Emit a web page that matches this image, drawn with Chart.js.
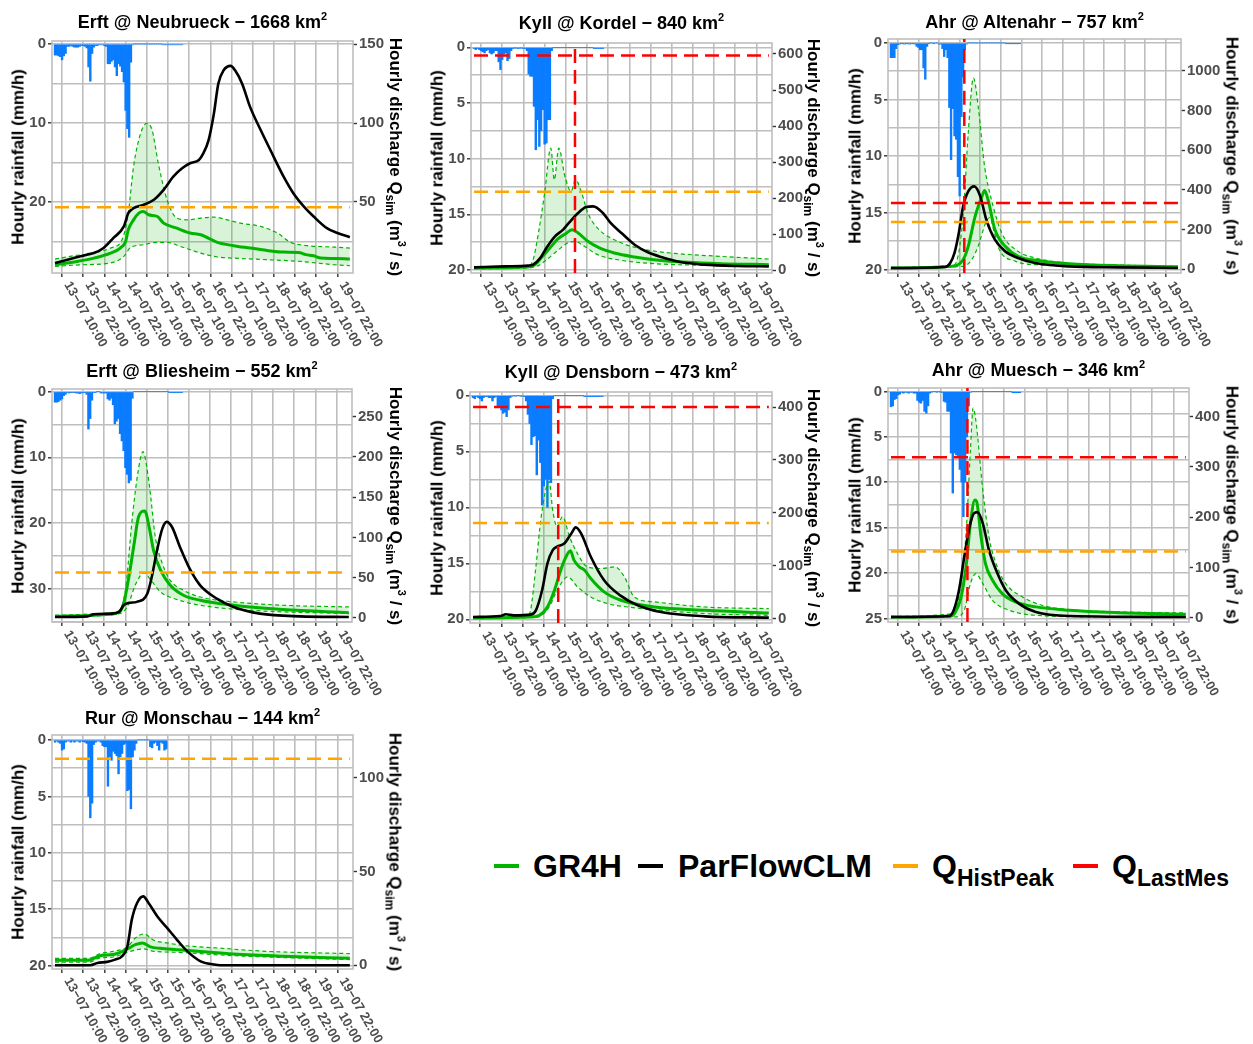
<!DOCTYPE html>
<html>
<head>
<meta charset="utf-8">
<script src="https://cdn.jsdelivr.net/npm/chart.js@4.4.1/dist/chart.umd.min.js"></script>
<style>
  html, body { margin: 0; padding: 0; background: #fff; }
  body { width: 1253px; height: 1044px; position: relative; overflow: hidden;
         font-family: "Liberation Sans", Arial, sans-serif; }
  canvas { position: absolute; }
  .ptitle { position: absolute; font-weight: bold; font-size: 18px; line-height: 1;
            white-space: nowrap; transform: translate(-50%, -50%); color: #000; }
  .ptitle sup { font-size: 11px; vertical-align: 8px; line-height: 0; }
  .ytitle { position: absolute; font-weight: bold; font-size: 17px; line-height: 1;
            white-space: nowrap; color: #000; }
  .ytitle.left { transform: translate(-50%, -50%) rotate(-90deg); }
  .ytitle.right { transform: translate(-50%, -50%) rotate(90deg); }
  .ytitle sub { font-size: 12px; vertical-align: -4px; line-height: 0; }
  .ytitle sup { font-size: 11px; vertical-align: 8px; line-height: 0; }
  .key { position: absolute; top: 864px; width: 25px; height: 4px; }
  .ltext { position: absolute; top: 866px; transform: translateY(-50%); font-size: 32px;
           font-weight: bold; line-height: 1; white-space: nowrap; color: #000; }
  .ltext sub { font-size: 23px; vertical-align: -9px; line-height: 0; }
</style>
</head>
<body>
<div class="key" style="left:494px;background:#00b400"></div>
<div class="ltext" style="left:533px">GR4H</div>
<div class="key" style="left:638px;background:#000"></div>
<div class="ltext" style="left:678px">ParFlowCLM</div>
<div class="key" style="left:893px;background:#ffa500"></div>
<div class="ltext" style="left:932px">Q<sub>HistPeak</sub></div>
<div class="key" style="left:1073px;background:#ff0000"></div>
<div class="ltext" style="left:1112px">Q<sub>LastMes</sub></div>

<script>
// hours counted from 13-07 00:00
const tickHours = [10, 22, 34, 46, 58, 70, 82, 94, 106, 118, 130, 142, 154, 166];
const tickLabels = ['13−07 10:00', '13−07 22:00', '14−07 10:00', '14−07 22:00', '15−07 10:00',
  '15−07 22:00', '16−07 10:00', '16−07 22:00', '17−07 10:00', '17−07 22:00', '18−07 10:00',
  '18−07 22:00', '19−07 10:00', '19−07 22:00'];

// Erft @ Neubrueck: hourly rainfall (mm/h), discharge as [hour, m3/s]
const neubrueckRain = [1.4, 1.4, 1.5, 1.6, 2.0, 1.5, 1.2, 0.3, 0.3, 0.2, 0.3, 0.4, 0.4, 0.4, 0.3, 0.2,
  0.2, 0.3, 0.5, 2.9, 4.7, 1.2, 0.4, 0.2, 0.2, 0.1, 0.1, 0.1, 0.2, 0.3, 2.5, 2.5, 2.2, 2.0, 2.9, 4.0,
  2.5, 2.8, 3.5, 4.8, 8.4, 10.7, 11.8, 2.3, 0.1, 0, 0, 0, 0, 0, 0, 0, 0, 0, 0, 0, 0, 0, 0, 0, 0,
  0.1, 0.1, 0.1, 0.1, 0.1, 0.1, 0.1, 0.1, 0.1, 0.1, 0.1, 0.1];
const neubrueckGr4h = [[0, 10.1], [12.5, 12.2], [22, 14.3], [31.5, 17.5], [37, 20.7], [40, 24.9],
  [41.5, 32.3], [44.5, 38.6], [47.5, 42.8], [50, 43.9], [53, 41.8], [58, 40.7], [61.5, 36.5],
  [69, 33.3], [76.5, 30.2], [82.5, 29.1], [92, 24.3], [101, 22.2], [110.5, 20.7], [120, 19.2],
  [129.5, 18.1], [138, 17.9], [142, 16.5], [146.5, 15.8], [150.5, 14.3], [158, 14.1], [167, 13.7]];
const neubrueckUpper = [[0, 13.7], [10.5, 15.8], [22, 17.5], [31.5, 20.7], [38, 26], [41.5, 42.8],
  [44.5, 72.4], [48.5, 93.5], [52, 99.8], [55, 95.6], [58.5, 74.5], [63.5, 51.3], [69, 39.7],
  [75, 38.6], [82.5, 39.7], [90, 40.3], [97.5, 38.6], [105, 36.5], [116.5, 34.4], [126, 30.2],
  [133.5, 24.3], [143, 22.2], [158, 21.3], [167, 20.7]];
const neubrueckLower = [[0, 9.1], [16, 10.1], [31.5, 11.2], [39, 15.4], [42.5, 20.7], [50, 22.8],
  [58, 24.3], [63.5, 24.3], [71, 21.7], [82.5, 17.5], [92, 15], [101, 14.3], [120, 13.3],
  [139, 12.2], [158, 10.1], [167, 9.5]];
const neubrueckParflow = [[0, 11.2], [7, 13.3], [18, 16.5], [22, 17.5], [27.5, 20.7], [33, 27],
  [39, 34.4], [41.5, 42.8], [44.5, 46], [50, 48.1], [56, 51.3], [61.5, 57.6], [67, 66], [72, 71.3],
  [76.5, 74.5], [81.5, 76.6], [84, 80.8], [87, 89.2], [90, 106], [92.5, 125], [95.5, 133.5],
  [99.5, 136.3], [102, 133.5], [106, 125], [110.5, 110.3], [116.5, 95.6], [122, 82.9],
  [129.5, 66], [135, 55.5], [141, 47], [146.5, 40.7], [154, 33.3], [160, 30.2], [167, 27.6]];
const neubrueckHistPeak = 46.6;

// Kyll @ Kordel
const kordelRain = [0.1, 0.2, 0.1, 0.2, 0.3, 0.4, 0.5, 0.3, 0.2, 0.5, 0.6, 0.5, 0.3, 0.3, 1.3, 2.0,
  1.1, 0.6, 0.5, 1.2, 1.0, 0.3, 0.1, 0.05, 0.05, 0.1, 0.05, 0.05, 0.1, 0.1, 0.3, 2.4, 2.6, 2.6,
  5.3, 9.2, 6.5, 8.9, 7.5, 5.6, 8.7, 8.6, 6.5, 6.5, 0.3, 0, 0, 0, 0, 0, 0, 0, 0, 0, 0, 0, 0, 0, 0,
  0, 0, 0, 0, 0, 0, 0, 0, 0, 0.1, 0.1, 0.1, 0.1, 0.1, 0.1];
const kordelGr4h = [[0, 6.5], [30.5, 9.2], [34.5, 15.7], [38, 34], [43, 62], [47.5, 87],
  [52.5, 103.5], [55.5, 112.8], [59, 103.5], [64.5, 80.4], [71, 62], [79.5, 48], [91, 37],
  [102, 29.6], [121, 22.2], [139.5, 18.5], [167, 15.7]];
const kordelUpper = [[0, 6.5], [30.5, 11], [33.5, 29.6], [36.5, 103.5], [40, 214.5], [43.5, 339],
  [45.5, 251], [48, 339], [51.5, 261], [55, 219], [57.5, 251], [61, 214.5], [64.5, 159],
  [70, 117], [79.5, 85], [92.5, 62], [111.5, 48], [139.5, 38.8], [167, 31.4]];
const kordelLower = [[0, 4.6], [30.5, 6.5], [35.5, 11], [40, 25], [47.5, 55.5], [53, 75.8],
  [57, 80.4], [62.5, 66.6], [70, 43.5], [83.5, 27.7], [102, 18.5], [130.5, 13.9], [167, 11]];
const kordelParflow = [[0, 8.3], [17.5, 11], [30.5, 13], [33.5, 15.7], [37.5, 34], [41, 62],
  [45.5, 92.4], [50.5, 113], [54, 133], [59, 159], [63.5, 175.6], [67.5, 177.5], [73, 159],
  [77.5, 131], [83.5, 103.5], [91, 71], [98.5, 50], [106, 37], [117, 23], [130.5, 15.7],
  [149, 12], [167, 11]];
const kordelHistPeak = 218;
const kordelLastMes = 596;
const kordelLastMesHour = 57.2;

// Ahr @ Altenahr
const altenahrRain = [1.3, 1.3, 1.3, 0.5, 0.15, 0.1, 0.05, 0.05, 0.1, 0.05, 0.05, 0.1, 0.05, 0.05,
  0.1, 0.3, 0.4, 0.6, 0.6, 2.2, 3.2, 0.3, 0.05, 0, 0, 0.05, 0, 0, 0.1, 0.1, 0.5, 1.2, 0.6, 1.3,
  5.7, 10.3, 5.8, 8.2, 8.5, 11.8, 13.5, 6.5, 3.0, 0.6, 0.1, 0, 0, 0, 0, 0, 0, 0, 0, 0, 0, 0, 0, 0,
  0, 0, 0, 0, 0, 0, 0, 0, 0, 0.05, 0.05, 0.05, 0.05, 0.05, 0.05, 0.05, 0.05, 0.05];
const altenahrGr4h = [[0, 5], [35.5, 13.5], [42, 47], [45, 114.5], [49, 266], [53, 367],
  [54.5, 397], [56.5, 350], [60.5, 199], [66.5, 114.5], [74, 64], [84, 43.8], [103.5, 27],
  [132.5, 16.8], [167, 11.8]];
const altenahrUpper = [[0, 8.4], [37, 22], [42, 266], [45, 687], [48, 964.6], [51, 805],
  [54.5, 518.5], [58.5, 350], [64.5, 182], [72.5, 97.6], [84, 55.5], [103.5, 30], [132.5, 20],
  [167, 13.5]];
const altenahrLower = [[0, 3.4], [42, 13.5], [47, 47], [51, 120], [55, 230], [57.5, 260],
  [60, 190], [63, 100], [72.5, 38.7], [84, 22], [123, 13.5], [167, 8.4]];
const altenahrParflow = [[0, 5], [31.5, 10], [34.5, 30], [37, 81], [39.5, 182], [42, 316],
  [45, 392], [48.5, 417.5], [52, 367], [55.5, 249], [60.5, 148], [66.5, 89], [74, 55.5],
  [84, 30], [103.5, 13.5], [132.5, 8.4], [167, 5]];
const altenahrHistPeak = 237;
const altenahrLastMes = 333;
const altenahrLastMesHour = 42.7;

// Erft @ Bliesheim
const bliesheimRain = [1.6, 1.6, 1.5, 1.3, 1.1, 0.6, 0.4, 0.1, 0.2, 0.1, 0.1, 0.1, 0.2, 0.2, 0.3,
  0.2, 0.1, 0.1, 0.4, 5.7, 4.1, 1.3, 0.1, 0.1, 0, 0, 0.2, 0.2, 0.2, 0.2, 1.1, 1.3, 1.0, 2.0, 4.9,
  4.5, 4.1, 6.4, 7.5, 9.0, 11.6, 12.6, 13.9, 13.5, 1.0, 0, 0, 0, 0, 0, 0, 0, 0, 0, 0, 0, 0, 0, 0,
  0, 0, 0, 0, 0, 0, 0.15, 0.15, 0.15, 0.15, 0.15, 0.15, 0.15, 0.15];
const bliesheimGr4h = [[0, 2], [31.5, 4.6], [36.5, 7.5], [39, 17.8], [42, 51], [45, 92.5],
  [47.5, 125.6], [51, 133], [53.5, 113], [56, 84], [60, 59.3], [65.5, 40.6], [73, 28.2],
  [82.5, 22], [101.5, 15.8], [129.5, 10.4], [167, 6.6]];
const bliesheimUpper = [[0, 3.3], [31.5, 6.2], [36.5, 9.5], [40, 34.4], [44, 125.6],
  [47.5, 185.7], [50, 206.5], [53.5, 167], [57, 100.7], [61, 67.6], [65.5, 46.8], [73, 34.4],
  [82.5, 26.1], [101.5, 20], [129.5, 15.8], [167, 13.7]];
const bliesheimLower = [[0, 1.2], [36.5, 5.4], [41, 13.7], [46, 42.7], [50.5, 56], [54.5, 46.8],
  [60, 32.3], [69.5, 22.8], [82.5, 15.8], [111, 9.5], [167, 5.4]];
const bliesheimParflow = [[0, 1.2], [18.5, 2], [22, 4.6], [31.5, 5.4], [36.5, 7.5], [39, 15.8],
  [42, 18.7], [46.5, 20], [52.5, 30.3], [55, 51], [58, 84], [61, 111], [63.5, 119.4],
  [66.5, 113], [71, 88.3], [77, 59.3], [82.5, 40.6], [92, 24], [101.5, 13.7], [116.5, 5.4],
  [139, 2], [167, 1.2]];
const bliesheimHistPeak = 56.4;

// Kyll @ Densborn
const densbornRain = [0.2, 0.3, 0.1, 0.2, 0.3, 0.5, 0.2, 0.1, 0.1, 0.2, 0.2, 0.5, 0.2, 0.1, 1.0,
  1.0, 1.3, 1.6, 1.5, 1.9, 1.3, 0.2, 0.05, 0, 0.05, 0, 0, 0.05, 0.05, 0.1, 0.5, 1.7, 2.5, 4.4,
  3.7, 3.6, 7.1, 4.0, 6.0, 9.8, 8.1, 7.5, 10.0, 7.5, 7.8, 0.3, 0, 0, 0, 0, 0, 0, 0, 0, 0, 0, 0,
  0, 0, 0, 0, 0, 0, 0.1, 0.1, 0.1, 0.1, 0.1, 0.1, 0.1, 0.1, 0.1, 0.1, 0.1];
const densbornGr4h = [[0, 1.3], [32.5, 3.2], [37.5, 6.3], [42, 22], [46, 53.7], [49.5, 91.6],
  [52.5, 117], [55, 128.3], [57, 110.6], [60, 98], [63, 91.6], [66.5, 75.8], [74, 50.6],
  [83.5, 34.8], [102.5, 22], [131, 15.8], [167, 10.7]];
const densbornUpper = [[0, 3.2], [31, 6.3], [32.5, 15.8], [35.5, 98], [38.5, 192.7], [43, 259],
  [45, 205], [47.5, 173.8], [50.5, 192.7], [54.5, 154.8], [59, 123], [64.5, 98], [72.5, 94.8],
  [80, 98], [85.5, 79], [91, 41], [102.5, 31.6], [131, 22], [167, 19]];
const densbornLower = [[0, 0.5], [36.5, 3.2], [43, 22], [47.5, 53.7], [53.5, 79], [59, 60],
  [66.5, 41], [76, 28.4], [87.5, 22], [102.5, 17], [131, 9.5], [167, 6.3]];
const densbornParflow = [[0, 3.2], [15.5, 5], [18.5, 8.2], [23, 6.3], [32.5, 7.6], [35.5, 15.8],
  [39, 53.7], [42, 104], [45, 129.5], [47.5, 136], [51.5, 142], [55.5, 161], [58, 172.5],
  [61, 161], [66.5, 117], [74, 72.7], [83.5, 43], [93, 25.3], [106, 12.6], [131, 4.4],
  [167, 1.9]];
const densbornHistPeak = 180.7;
const densbornLastMes = 400;
const densbornLastMesHour = 48.1;

// Ahr @ Muesch
const mueschRain = [1.7, 1.6, 0.9, 0.8, 0.4, 0.3, 0.1, 0.2, 0.1, 0.1, 0.2, 0.1, 0.1, 0.2, 0.2,
  1.0, 1.2, 1.3, 1.0, 2.2, 2.4, 1.6, 0.2, 0.05, 0, 0, 0.05, 0, 0.05, 0.1, 1.1, 1.2, 2.2, 2.2,
  6.8, 11.2, 6.8, 7.0, 7.2, 8.6, 10.0, 13.8, 10.0, 5.0, 1.6, 0.1, 0, 0, 0, 0, 0, 0, 0, 0, 0, 0,
  0, 0, 0, 0, 0, 0, 0, 0, 0, 0, 0, 0, 0, 0.15, 0.15, 0.15, 0.15, 0.15];
const mueschGr4h = [[0, 2], [34, 4], [36.5, 12], [39.5, 38.5], [42.5, 101.5], [45, 187.7],
  [47.5, 234], [48.5, 231], [51, 161], [53.5, 108], [57.5, 75], [63, 48.4], [70.5, 31.8],
  [82, 22], [101, 15.3], [129, 10.6], [167, 7.3]];
const mueschUpper = [[0, 3.3], [35, 8.6], [38.5, 41.8], [42.5, 167.8], [45, 333.7],
  [46.5, 416.6], [48, 393.4], [52, 254], [55.5, 161], [59.5, 108], [65, 68.3], [74.5, 41.8],
  [85.5, 25.2], [101, 16.6], [129, 12], [167, 10]];
const mueschLower = [[0, 0.7], [36.5, 2], [41.5, 15.3], [45, 68.3], [48, 88], [52, 68.3],
  [57.5, 35], [67, 15.3], [82, 5.3], [119.5, 2], [167, 1.3]];
const mueschParflow = [[0, 2], [33, 4], [35.5, 15.3], [38.5, 55], [41.5, 121.4], [44.5, 181],
  [47, 207.6], [49, 210], [52, 187.7], [55.5, 134.7], [59.5, 95], [65, 55], [72.5, 28.5],
  [82, 12], [101, 4], [167, 2]];
const mueschHistPeak = 132;
const mueschLastMes = 319;
const mueschLastMesHour = 43.3;

// Rur @ Monschau
const monschauRain = [0.2, 0.1, 0.2, 0.3, 0.9, 0.8, 0.2, 0.1, 0.1, 0.2, 0.1, 0.2, 0.1, 0.1, 0.2,
  0.1, 0.15, 0.2, 0.3, 5.0, 6.9, 5.6, 0.4, 0.2, 0.1, 0.1, 0.2, 0.5, 0.6, 0.6, 4.1, 1.5, 1.8, 1.0,
  1.2, 1.4, 3.0, 1.5, 1.2, 0.4, 0.3, 4.5, 4.4, 6.1, 1.5, 0.9, 0.3, 0, 0, 0, 0, 0, 0, 0, 0.6, 0.7,
  0.3, 0.2, 0.5, 0.9, 0.2, 0.3, 0.9, 0.8];
const monschauGr4h = [[0, 2.7], [19, 2.7], [25.5, 5.1], [33, 5.7], [41, 8.7], [45.5, 11],
  [49.5, 11.9], [54, 9.8], [59.5, 9], [69, 8.3], [82.5, 7.3], [101, 6], [129.5, 4.8], [167, 3.7]];
const monschauUpper = [[0, 3.7], [19, 3.7], [25.5, 6.2], [33, 7.4], [41, 9.8], [45.5, 14.5],
  [50.5, 16.7], [56, 13.3], [63.5, 11.9], [73, 10.5], [92, 9.2], [120, 7.4], [167, 6.2]];
const monschauLower = [[0, 1.6], [19, 1.6], [25.5, 3.9], [33, 4.4], [41, 6.9], [46.5, 8.3],
  [50, 8.7], [56, 7.4], [69, 6.9], [101, 5.1], [167, 3]];
const monschauParflow = [[0, 0], [20, 0], [24, 1.2], [29.5, 1.8], [34, 3], [38, 4.8], [41, 10],
  [43.5, 24.3], [46.5, 33.2], [50, 36.7], [53, 33.2], [58, 26], [63.5, 19.9], [69, 13.7],
  [75, 7.4], [82.5, 2.1], [90, 0.4], [93.5, 0], [167, 0]];
const monschauHistPeak = 110;

const HOUR_MIN = -1.7, HOUR_MAX = 168.8, LINE_END = 167;
const AXIS_L = 44, AXIS_R = 50, PAD_T = 12, AXIS_B = 82;
const FONT = '"Liberation Sans", Arial, sans-serif';
const GRID = '#bebebe', TICK = '#333333', LABEL = '#4d4d4d';
const BLUE = '#0a7cff', GREEN = '#00b400', BAND = 'rgba(0, 175, 0, 0.15)';
const ORANGE = '#ffa500', RED = '#ff0000';

const panels = [
  { river: 'Erft', station: 'Neubrueck', area: 1668, rain: neubrueckRain, gr4h: neubrueckGr4h,
    upper: neubrueckUpper, lower: neubrueckLower, parflow: neubrueckParflow,
    histPeak: neubrueckHistPeak, lastMes: null, lastMesHour: null,
    box: [52, 41, 353, 273], rainRange: [-0.38, 28.95], rainStep: 10,
    qRange: [4.85, 152.1], qTicks: [50, 100, 150], titleY: 21.7, leftX: 18, rightX: 395 },
  { river: 'Kyll', station: 'Kordel', area: 840, rain: kordelRain, gr4h: kordelGr4h,
    upper: kordelUpper, lower: kordelLower, parflow: kordelParflow,
    histPeak: kordelHistPeak, lastMes: kordelLastMes, lastMesHour: kordelLastMesHour,
    box: [471, 43, 772, 273], rainRange: [-0.39, 20.27], rainStep: 5,
    qRange: [-7.4, 630.5], qTicks: [0, 100, 200, 300, 400, 500, 600], titleY: 23.3, leftX: 437, rightX: 813 },
  { river: 'Ahr', station: 'Altenahr', area: 757, rain: altenahrRain, gr4h: altenahrGr4h,
    upper: altenahrUpper, lower: altenahrLower, parflow: altenahrParflow,
    histPeak: altenahrHistPeak, lastMes: altenahrLastMes, lastMesHour: altenahrLastMesHour,
    box: [888, 39, 1181, 273], rainRange: [-0.35, 20.3], rainStep: 5,
    qRange: [-20.2, 1161.6], qTicks: [0, 200, 400, 600, 800, 1000], titleY: 22, leftX: 855, rightX: 1232 },
  { river: 'Erft', station: 'Bliesheim', area: 552, rain: bliesheimRain, gr4h: bliesheimGr4h,
    upper: bliesheimUpper, lower: bliesheimLower, parflow: bliesheimParflow,
    histPeak: bliesheimHistPeak, lastMes: null, lastMesHour: null,
    box: [52, 389, 352, 622], rainRange: [-0.41, 35.1], rainStep: 10,
    qRange: [-5, 284.4], qTicks: [0, 50, 100, 150, 200, 250], titleY: 371, leftX: 18, rightX: 395 },
  { river: 'Kyll', station: 'Densborn', area: 473, rain: densbornRain, gr4h: densbornGr4h,
    upper: densbornUpper, lower: densbornLower, parflow: densbornParflow,
    histPeak: densbornHistPeak, lastMes: densbornLastMes, lastMesHour: densbornLastMesHour,
    box: [470, 392, 772, 623], rainRange: [-0.3, 20.33], rainStep: 5,
    qRange: [-8.2, 428.4], qTicks: [0, 100, 200, 300, 400], titleY: 371.7, leftX: 437, rightX: 813 },
  { river: 'Ahr', station: 'Muesch', area: 346, rain: mueschRain, gr4h: mueschGr4h,
    upper: mueschUpper, lower: mueschLower, parflow: mueschParflow,
    histPeak: mueschHistPeak, lastMes: mueschLastMes, lastMesHour: mueschLastMesHour,
    box: [888, 388, 1189, 622], rainRange: [-0.37, 25.4], rainStep: 5,
    qRange: [-8, 456.4], qTicks: [0, 100, 200, 300, 400], titleY: 370.3, leftX: 855, rightX: 1232 },
  { river: 'Rur', station: 'Monschau', area: 144, rain: monschauRain, gr4h: monschauGr4h,
    upper: monschauUpper, lower: monschauLower, parflow: monschauParflow,
    histPeak: monschauHistPeak, lastMes: null, lastMesHour: null,
    box: [52, 735, 353, 969], rainRange: [-0.44, 20.3], rainStep: 5,
    qRange: [-2, 122.7], qTicks: [0, 50, 100], titleY: 718, leftX: 18, rightX: 395 }
];

// panel border on top of the grid
const framePlugin = {
  id: 'frame',
  beforeDatasetsDraw(chart) {
    const a = chart.chartArea, ctx = chart.ctx;
    ctx.save();
    ctx.strokeStyle = GRID;
    ctx.lineWidth = 1.6;
    ctx.strokeRect(a.left, a.top, a.right - a.left, a.bottom - a.top);
    ctx.restore();
  }
};

// date labels slanted downwards, starting at each tick
const slantedTicks = {
  id: 'slantedTicks',
  afterDraw(chart) {
    const x = chart.scales.x, ctx = chart.ctx;
    ctx.save();
    ctx.font = 'bold 13px ' + FONT;
    ctx.fillStyle = LABEL;
    ctx.textAlign = 'left';
    ctx.textBaseline = 'top';
    tickHours.forEach((h, i) => {
      ctx.save();
      ctx.translate(x.getPixelForValue(h), chart.chartArea.bottom + 6.5);
      ctx.rotate(Math.PI / 3);
      ctx.fillText(tickLabels[i], 0, 0);
      ctx.restore();
    });
    ctx.restore();
  }
};

function pairs(arr) {
  return arr.map(([h, q]) => ({ x: h, y: q }));
}

function line(data, style) {
  return Object.assign({
    type: 'line', data: data, yAxisID: 'q', pointRadius: 0, fill: false,
    cubicInterpolationMode: 'monotone'
  }, style);
}

function addText(cls, html, left, top) {
  const d = document.createElement('div');
  d.className = cls;
  d.innerHTML = html;
  d.style.left = left + 'px';
  d.style.top = top + 'px';
  document.body.appendChild(d);
}

function drawPanel(p) {
  const [l, t, r, b] = p.box;
  const cw = (r - l) + AXIS_L + AXIS_R, ch = (b - t) + PAD_T + AXIS_B;
  const canvas = document.createElement('canvas');
  canvas.width = cw;
  canvas.height = ch;
  canvas.style.left = (l - AXIS_L) + 'px';
  canvas.style.top = (t - PAD_T) + 'px';
  canvas.style.width = cw + 'px';
  canvas.style.height = ch + 'px';
  document.body.appendChild(canvas);

  const dashed = { borderColor: GREEN, borderWidth: 1.2, borderDash: [4, 3] };
  const datasets = [
    { type: 'bar', data: p.rain.map((v, i) => ({ x: i, y: v })), yAxisID: 'rain',
      backgroundColor: BLUE, borderWidth: 0, barPercentage: 1, categoryPercentage: 1, order: 10 },
    line(pairs(p.upper), Object.assign({ fill: '+1', backgroundColor: BAND, order: 8 }, dashed)),
    line(pairs(p.lower), Object.assign({ order: 7 }, dashed)),
    line(pairs(p.gr4h), { borderColor: GREEN, borderWidth: 3, order: 5 }),
    line(pairs(p.parflow), { borderColor: '#000', borderWidth: 2.6, order: 4 }),
    line([{ x: 0, y: p.histPeak }, { x: LINE_END, y: p.histPeak }],
      { borderColor: ORANGE, borderWidth: 2.5, borderDash: [14, 7], order: 3 })
  ];
  if (p.lastMes !== null) {
    datasets.push(line([{ x: 0, y: p.lastMes }, { x: LINE_END, y: p.lastMes }],
      { borderColor: RED, borderWidth: 2.5, borderDash: [14, 7], order: 2 }));
    datasets.push(line([{ x: p.lastMesHour, y: p.qRange[0] }, { x: p.lastMesHour, y: p.qRange[1] }],
      { borderColor: RED, borderWidth: 2.5, borderDash: [14, 7], order: 1 }));
  }

  const tickFont = { family: FONT, size: 15, weight: 'bold' };
  const step = p.rainStep;

  new Chart(canvas, {
    type: 'line',
    data: { datasets: datasets },
    options: {
      responsive: false,
      animation: false,
      layout: { padding: { top: PAD_T, left: 0, right: 0, bottom: 0 } },
      plugins: { legend: { display: false }, tooltip: { enabled: false } },
      scales: {
        x: {
          type: 'linear', min: HOUR_MIN, max: HOUR_MAX, offset: false,
          afterBuildTicks: s => { s.ticks = tickHours.map(v => ({ value: v })); },
          afterFit: s => { s.height = AXIS_B; },
          ticks: { display: false },
          grid: { color: GRID, lineWidth: 1.6, drawTicks: true, tickLength: 4, tickColor: TICK, tickWidth: 1.4 },
          border: { display: false }
        },
        rain: {
          type: 'linear', position: 'left', reverse: true,
          min: p.rainRange[0], max: p.rainRange[1],
          afterBuildTicks: s => {
            const ticks = [];
            for (let v = 0; v <= p.rainRange[1] + 1e-9; v += step / 2) ticks.push({ value: v });
            s.ticks = ticks;
          },
          afterFit: s => { s.width = AXIS_L; },
          ticks: { autoSkip: false, font: tickFont, color: LABEL, padding: 2,
            callback: v => (v % step === 0 ? String(v) : '') },
          grid: { color: GRID, lineWidth: 1.6, tickLength: 4, tickWidth: 1.4,
            tickColor: c => (c.tick && c.tick.value % step === 0 ? TICK : 'rgba(0,0,0,0)') },
          border: { display: false }
        },
        q: {
          type: 'linear', position: 'right', min: p.qRange[0], max: p.qRange[1],
          afterBuildTicks: s => { s.ticks = p.qTicks.map(v => ({ value: v })); },
          afterFit: s => { s.width = AXIS_R; },
          ticks: { autoSkip: false, font: tickFont, color: LABEL, padding: 2,
            callback: v => String(v) },
          grid: { drawOnChartArea: false, tickLength: 4, tickColor: TICK, tickWidth: 1.4 },
          border: { display: false }
        }
      }
    },
    plugins: [framePlugin, slantedTicks]
  });

  const midY = (t + b) / 2;
  addText('ptitle', p.river + ' @ ' + p.station + ' − ' + p.area + ' km<sup>2</sup>', (l + r) / 2, p.titleY);
  addText('ytitle left', 'Hourly rainfall (mm/h)', p.leftX, midY);
  addText('ytitle right', 'Hourly discharge Q<sub>sim</sub> (m<sup>3</sup> / s)', p.rightX, midY);
}

panels.forEach(drawPanel);
</script>
</body>
</html>
